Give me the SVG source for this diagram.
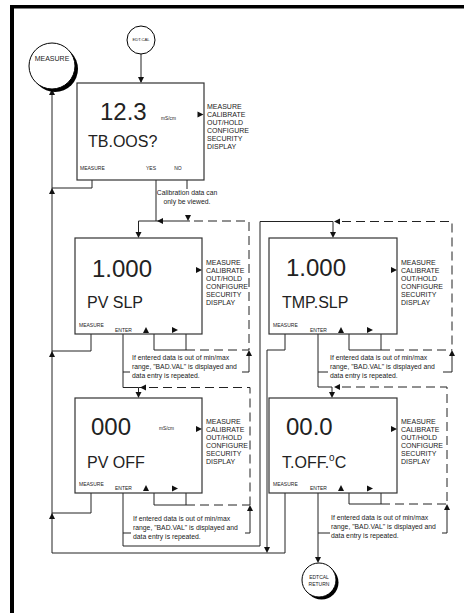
<svg xmlns="http://www.w3.org/2000/svg" xmlns:xlink="http://www.w3.org/1999/xlink" width="464" height="613" viewBox="0 0 464 613">
<style>
.bx{fill:#fff;stroke:#333;stroke-width:1.2}
.ln{fill:none;stroke:#222;stroke-width:1}
.dl{fill:none;stroke:#222;stroke-width:1;stroke-dasharray:9 5}
text{font-family:"Liberation Sans",Arial,sans-serif;fill:#222}
.big{font-size:24px}
.lbl{font-size:16px}
.menu{font-size:7px}
.key{font-size:5px}
.unit{font-size:4.8px}
.note{font-size:6.8px}
.ah{fill:#111}
</style>
<defs>
<path id="aU" class="ah" d="M0,0 L-3,6 L3,6 Z"/>
<path id="aD" class="ah" d="M0,0 L-3,-6 L3,-6 Z"/>
<path id="aL" class="ah" d="M0,0 L6,-3 L6,3 Z"/>
<path id="aR" class="ah" d="M0,0 L-6,-3 L-6,3 Z"/>
</defs>
<rect x="0" y="0" width="464" height="613" fill="#fff"/>
<g id="frame">
<rect x="10" y="5" width="454" height="3.5" fill="#000"/>
<rect x="10" y="5" width="4" height="608" fill="#000"/>
</g>
<g id="connectors">
<path class="ln" d="M141,54 V82"/>
<use xlink:href="#aD" x="141" y="83"/>
<path class="ln" d="M52,89 V553 H285 V493"/>
<use xlink:href="#aU" x="52" y="89"/>
<path class="ln" d="M92,180 V188 H52"/>
<use xlink:href="#aU" x="52" y="188"/>
<path class="ln" d="M91,334 V351 H52"/>
<use xlink:href="#aU" x="52" y="351"/>
<path class="ln" d="M91,493 V513 H52"/>
<use xlink:href="#aU" x="52" y="513"/>
<path class="ln" d="M285,334 V350 H267 V547"/>
<use xlink:href="#aD" x="267" y="553"/>
<path class="ln" d="M156,180 V221 H138.5 V233"/>
<use xlink:href="#aD" x="138.5" y="238"/>
<path class="ln" d="M156,221 H190"/>
<use xlink:href="#aL" x="157" y="221"/>
<path class="ln" d="M187,180 V189"/>
<use xlink:href="#aD" x="188" y="221"/>
<path class="dl" d="M194,221 H249 V350"/>
<path class="ln" d="M154,334 V350 H186 V334"/>
<path class="dl" d="M186,350 H249"/>
<use xlink:href="#aU" x="249" y="350"/>
<path class="ln" d="M249,356 V372 H242"/>
<path class="ln" d="M123,334 V387.5 H138.5 V393"/>
<use xlink:href="#aD" x="138.5" y="398"/>
<path class="ln" d="M138.5,387.5 H146"/>
<use xlink:href="#aL" x="140" y="387.5"/>
<path class="ln" d="M123,372 H130"/>
<path class="dl" d="M149,387.5 H250 V505"/>
<path class="ln" d="M154,493 V505 H186 V493"/>
<path class="dl" d="M186,505 H250"/>
<use xlink:href="#aU" x="250" y="505"/>
<path class="ln" d="M250,511 V533 H245"/>
<path class="ln" d="M123,493 V546 H260 V221.5 H333 V233"/>
<use xlink:href="#aD" x="333" y="238"/>
<use xlink:href="#aL" x="334" y="221.5"/>
<path class="ln" d="M123,533 H131"/>
<path class="dl" d="M342,221.5 H452 V350"/>
<path class="ln" d="M349,334 V350 H381 V334"/>
<path class="dl" d="M381,350 H452"/>
<use xlink:href="#aU" x="452" y="350"/>
<path class="ln" d="M452,356 V372 H443"/>
<path class="ln" d="M318,334 V387 H332 V393"/>
<use xlink:href="#aD" x="332" y="398"/>
<use xlink:href="#aL" x="334" y="387"/>
<path class="ln" d="M318,372 H328"/>
<path class="dl" d="M342,387 H447 V504"/>
<path class="ln" d="M349,493 V504 H381 V493"/>
<path class="dl" d="M381,504 H447"/>
<use xlink:href="#aU" x="447" y="504"/>
<path class="ln" d="M447,510 V533 H442"/>
<path class="ln" d="M318,493 V558"/>
<use xlink:href="#aD" x="318" y="563"/>
<path class="ln" d="M318,533 H330"/>
</g>
<g id="measure">
<circle cx="55" cy="69" r="23" fill="#000"/>
<circle cx="52" cy="66" r="23" fill="#fff" stroke="#000" stroke-width="1"/>
<text x="52" y="61" font-size="7" text-anchor="middle">MEASURE</text>
</g>
<g id="edtcal">
<circle cx="141" cy="40" r="14" fill="#fff" stroke="#000" stroke-width="1"/>
<text x="141" y="41" font-size="4.2" text-anchor="middle">EDT.CAL</text>
</g>
<g id="tboos">
<rect class="bx" x="77" y="83" width="127" height="97"/>
<text class="big" x="100" y="120">12.3</text>
<text class="unit" x="161" y="120">mS/cm</text>
<text class="lbl" x="88" y="147">TB.OOS?</text>
<use xlink:href="#aR" x="203.5" y="114.5"/>
<text class="menu" x="207" y="108.5"><tspan x="207">MEASURE</tspan><tspan x="207" dy="8">CALIBRATE</tspan><tspan x="207" dy="8">OUT/HOLD</tspan><tspan x="207" dy="8">CONFIGURE</tspan><tspan x="207" dy="8">SECURITY</tspan><tspan x="207" dy="8">DISPLAY</tspan></text>
<text class="key" x="80" y="170">MEASURE</text>
<text class="key" x="151" y="170" text-anchor="middle">YES</text>
<text class="key" x="178" y="170" text-anchor="middle">NO</text>
<text class="note" x="187" y="194.5" text-anchor="middle">Calibration data can</text>
<text class="note" x="187" y="203.5" text-anchor="middle">only be viewed.</text>
</g>
<g id="pvslp">
<rect class="bx" x="75" y="238" width="127" height="96"/>
<text class="big" x="92" y="277">1.000</text>
<text class="lbl" x="87" y="308">PV SLP</text>
<use xlink:href="#aR" x="202" y="270"/>
<text class="menu" x="206" y="264.5"><tspan x="206">MEASURE</tspan><tspan x="206" dy="8">CALIBRATE</tspan><tspan x="206" dy="8">OUT/HOLD</tspan><tspan x="206" dy="8">CONFIGURE</tspan><tspan x="206" dy="8">SECURITY</tspan><tspan x="206" dy="8">DISPLAY</tspan></text>
<text class="key" x="79" y="327">MEASURE</text>
<text class="key" x="115" y="332">ENTER</text>
<use xlink:href="#aU" x="146" y="327"/>
<use xlink:href="#aR" x="178" y="330"/>
<text class="note" x="132" y="359.5">If entered data is out of min/max</text>
<text class="note" x="132" y="368.5">range, "BAD.VAL" is displayed and</text>
<text class="note" x="132" y="377.5">data entry is repeated.</text>
</g>
<g id="pvoff">
<rect class="bx" x="75" y="398" width="127" height="95"/>
<text class="big" x="91" y="435">000</text>
<text class="unit" x="159" y="430">mS/cm</text>
<text class="lbl" x="87" y="468">PV OFF</text>
<use xlink:href="#aR" x="202" y="429"/>
<text class="menu" x="206" y="424"><tspan x="206">MEASURE</tspan><tspan x="206" dy="8">CALIBRATE</tspan><tspan x="206" dy="8">OUT/HOLD</tspan><tspan x="206" dy="8">CONFIGURE</tspan><tspan x="206" dy="8">SECURITY</tspan><tspan x="206" dy="8">DISPLAY</tspan></text>
<text class="key" x="79" y="486">MEASURE</text>
<text class="key" x="115" y="490">ENTER</text>
<use xlink:href="#aU" x="146" y="485"/>
<use xlink:href="#aR" x="178" y="488.5"/>
<text class="note" x="133" y="520.5">If entered data is out of min/max</text>
<text class="note" x="133" y="529.5">range, "BAD.VAL" is displayed and</text>
<text class="note" x="133" y="538.5">data entry is repeated.</text>
</g>
<g id="tmpslp">
<rect class="bx" x="269" y="238" width="128" height="96"/>
<text class="big" x="286" y="276">1.000</text>
<text class="lbl" x="282" y="308">TMP.SLP</text>
<use xlink:href="#aR" x="397" y="270"/>
<text class="menu" x="401" y="264.5"><tspan x="401">MEASURE</tspan><tspan x="401" dy="8">CALIBRATE</tspan><tspan x="401" dy="8">OUT/HOLD</tspan><tspan x="401" dy="8">CONFIGURE</tspan><tspan x="401" dy="8">SECURITY</tspan><tspan x="401" dy="8">DISPLAY</tspan></text>
<text class="key" x="273" y="327">MEASURE</text>
<text class="key" x="310" y="332">ENTER</text>
<use xlink:href="#aU" x="341" y="327"/>
<use xlink:href="#aR" x="373" y="330"/>
<text class="note" x="330" y="359.5">If entered data is out of min/max</text>
<text class="note" x="330" y="368.5">range, "BAD.VAL" is displayed and</text>
<text class="note" x="330" y="377.5">data entry is repeated.</text>
</g>
<g id="toff">
<rect class="bx" x="269" y="398" width="128" height="95"/>
<text class="big" x="286" y="435">00.0</text>
<text class="lbl" x="282" y="468">T.OFF.<tspan font-size="10" dy="-7">o</tspan><tspan dy="7">C</tspan></text>
<use xlink:href="#aR" x="397" y="429"/>
<text class="menu" x="401" y="424"><tspan x="401">MEASURE</tspan><tspan x="401" dy="8">CALIBRATE</tspan><tspan x="401" dy="8">OUT/HOLD</tspan><tspan x="401" dy="8">CONFIGURE</tspan><tspan x="401" dy="8">SECURITY</tspan><tspan x="401" dy="8">DISPLAY</tspan></text>
<text class="key" x="273" y="486">MEASURE</text>
<text class="key" x="310" y="490">ENTER</text>
<use xlink:href="#aU" x="341" y="485"/>
<use xlink:href="#aR" x="373" y="488.5"/>
<text class="note" x="331" y="520">If entered data is out of min/max</text>
<text class="note" x="331" y="529">range, "BAD.VAL" is displayed and</text>
<text class="note" x="331" y="538">data entry is repeated.</text>
</g>
<g id="edtcal-return">
<circle cx="321.5" cy="582.5" r="17" fill="#000"/>
<circle cx="319" cy="580" r="17" fill="#fff" stroke="#000" stroke-width="1"/>
<text class="key" x="319" y="578.5" text-anchor="middle">EDTCAL</text>
<text class="key" x="319" y="586" text-anchor="middle">RETURN</text>
</g>
</svg>
